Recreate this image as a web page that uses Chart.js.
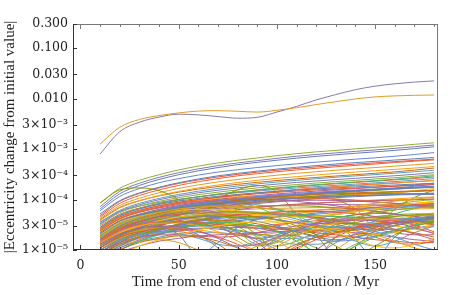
<!DOCTYPE html>
<html>
<head>
<meta charset="utf-8">
<script src="https://cdn.jsdelivr.net/npm/chart.js@4.4.1/dist/chart.umd.min.js"></script>
<style>
  html, body { margin: 0; padding: 0; background: #fff; }
  #wrap { width: 463px; height: 295px; }
</style>
</head>
<body>
<div id="wrap"><canvas id="chart" width="463" height="295"></canvas></div>
<script>
// ---------- Data ----------
// |Δe| values, in units of 1e-5
const UNIT = 1e-5;
const TIMES = [10, 20, 30, 40, 50, 60, 70, 80, 90, 100, 110, 120, 130, 140, 150, 160, 170, 180];

// the two planets that end above 0.01
const TOP_SERIES = [
  [126, 270, 385, 460, 520, 565, 575, 560, 540, 585, 660, 760, 870, 985, 1080, 1130, 1160, 1175],
  [80, 220, 340, 430, 490, 475, 440, 408, 425, 540, 700, 940, 1200, 1500, 1760, 1960, 2120, 2240],
];

// smooth, steadily growing curves at the top of the bundle
const UPPER_SERIES = [
  [8.6, 16.6, 24, 31, 38.5, 46, 53, 60, 66.5, 74, 81, 88, 94, 101, 108, 115, 124, 133],
  [7.2, 14.5, 21, 27.5, 34, 40.5, 47, 53, 59, 65.5, 72, 78, 84, 90, 96, 103, 111, 120],
  [6.5, 13, 19, 25, 31, 37, 43, 49, 54.5, 60, 66, 71.5, 77, 82.5, 88, 94, 102, 111],
  [6.0, 11.5, 16.5, 21.5, 26, 30.5, 35, 39, 43, 47, 51, 55, 59, 63, 67, 72, 78, 85],
  [5.2, 9.5, 13.5, 17.5, 21.5, 25.5, 29.5, 33, 36.5, 40, 43.5, 47, 50.5, 54, 57, 60.5, 64, 68],
  [4.8, 9.2, 13.2, 17, 20.8, 24.5, 28, 31.5, 34.8, 38, 41.2, 44.3, 47.3, 50.3, 53.3, 56.4, 59.6, 63],
  [4.5, 8.4, 12, 15.5, 19, 22.5, 26, 29.5, 32.5, 35.5, 38.5, 41.5, 44.5, 47.5, 50.5, 54, 57.5, 61],
  [4.2, 7.6, 10.6, 13.6, 16.6, 19.5, 22.3, 25, 27.7, 30.3, 33, 35.5, 38, 40.5, 43, 45.8, 48.8, 52],
  [3.8, 6.8, 9.4, 12, 14.5, 17, 19.4, 21.7, 24, 26.2, 28.4, 30.6, 32.8, 35, 37.2, 39.5, 42, 45],
  [4.0, 7.0, 9.5, 11.8, 14, 16.1, 18.1, 20, 21.9, 23.8, 25.6, 27.4, 29.2, 31.1, 33.1, 35.3, 38.2, 42],
  [3.5, 6.1, 8.4, 10.5, 12.6, 14.6, 16.6, 18.5, 20.4, 22.2, 24, 25.8, 27.6, 29.4, 31.2, 33.2, 35.5, 38],
  [3.3, 5.8, 7.9, 9.9, 11.8, 13.6, 15.3, 17, 18.6, 20.2, 21.8, 23.3, 24.8, 26.3, 27.9, 29.6, 31.6, 34],
  [3.2, 5.5, 7.4, 9.2, 10.9, 12.5, 14, 15.5, 17, 18.4, 19.8, 21.2, 22.6, 24, 25.5, 27, 28.9, 31],
  [2.8, 4.9, 6.6, 8.2, 9.8, 11.3, 12.8, 14.2, 15.6, 17, 18.4, 19.7, 21, 22.3, 23.7, 25.2, 27.1, 29.5],
  [3.0, 5.1, 6.8, 8.4, 9.9, 11.3, 12.7, 14, 15.3, 16.6, 17.9, 19.2, 20.5, 21.8, 23.1, 24.5, 26.1, 28],
  [3.6, 5.8, 7.4, 8.8, 10.1, 11.3, 12.5, 13.6, 14.7, 15.8, 16.9, 18, 19.1, 20.2, 21.4, 22.7, 24.2, 26],
  [2.7, 4.6, 6.1, 7.5, 8.8, 10, 11.2, 12.3, 13.4, 14.5, 15.6, 16.6, 17.6, 18.7, 19.8, 21, 22.4, 24],
  [2.5, 4.2, 5.6, 6.8, 8, 9.1, 10.1, 11.1, 12, 12.9, 13.8, 14.7, 15.6, 16.5, 17.4, 18.4, 19.6, 21],
  [1.9, 3.3, 4.5, 5.6, 6.6, 7.6, 8.5, 9.4, 10.3, 11.2, 12.1, 13, 13.9, 14.8, 15.8, 16.9, 18.3, 20],
  [2.3, 3.8, 5, 6.1, 7.1, 8, 8.9, 9.7, 10.5, 11.3, 12.1, 12.8, 13.5, 14.3, 15.1, 16, 16.9, 18],
  [1.8, 3.0, 4.0, 4.9, 5.7, 6.5, 7.2, 7.9, 8.6, 9.3, 10, 10.7, 11.4, 12.1, 12.9, 13.8, 15, 16.5],
  [2.1, 3.4, 4.5, 5.4, 6.3, 7.1, 7.8, 8.5, 9.2, 9.8, 10.4, 11, 11.6, 12.3, 13, 13.7, 14.5, 15.4],
  [2.4, 4.1, 5.6, 7.0, 8.4, 9.7, 11.0, 12.2, 13.4, 14.6, 15.8, 17.0, 18.1, 19.2, 20.3, 21.4, 22.5, 23.6],
  [2.0, 3.4, 4.7, 6.0, 7.2, 8.3, 9.3, 10.2, 11.0, 11.8, 12.6, 13.4, 14.2, 15.0, 15.8, 16.6, 17.4, 18.2],
  [1.7, 2.9, 4.0, 5.1, 6.2, 7.3, 8.3, 9.2, 10.0, 10.7, 11.3, 11.8, 12.2, 12.5, 12.7, 12.8, 12.8, 12.7],
];

// the dense, wandering lower part of the bundle
const LOWER_SERIES = [
  [2.2, 3.8, 5.0, 6.0, 6.9, 7.7, 8.4, 9.0, 9.6, 10.1, 10.6, 11.0, 11.4, 11.8, 12.2, 12.6, 13.0, 13.4],
  [1.8, 3.2, 4.5, 5.6, 6.5, 7.1, 7.4, 7.3, 6.9, 6.4, 6.1, 6.2, 6.7, 7.5, 8.4, 9.3, 10.2, 11],
  [1.5, 2.8, 4.0, 5.0, 5.7, 5.8, 5.0, 3.6, 2.0, 0.9, 1.0, 2.0, 3.2, 4.4, 5.4, 6.2, 6.8, 7.2],
  [1.3, 2.3, 3.1, 3.8, 4.3, 4.7, 5.0, 5.3, 5.5, 5.7, 5.9, 6.1, 6.4, 6.7, 7.0, 7.4, 7.8, 8.2],
  [1.2, 2.0, 2.6, 2.9, 2.7, 2.0, 1.1, 0.5, 0.9, 1.7, 2.6, 3.4, 4.0, 4.4, 4.5, 4.3, 3.8, 3.1],
  [1.6, 2.9, 4.1, 5.3, 6.4, 7.5, 8.6, 9.6, 10.5, 11.3, 12.0, 12.6, 13.1, 13.6, 14.0, 14.4, 14.8, 15.2],
  [1.1, 1.9, 2.8, 3.6, 4.4, 5.1, 5.6, 5.8, 5.6, 5.0, 4.1, 3.1, 2.2, 1.5, 1.2, 1.5, 2.2, 3.0],
  [2.0, 3.5, 4.6, 5.5, 6.1, 6.4, 6.3, 5.9, 5.3, 4.8, 4.5, 4.6, 5.0, 5.7, 6.5, 7.4, 8.3, 9.2],
  [1.4, 2.5, 3.6, 4.6, 5.5, 6.4, 7.3, 8.1, 8.8, 9.3, 9.6, 9.7, 9.6, 9.3, 8.9, 8.4, 7.9, 7.4],
  [1.0, 1.6, 2.1, 2.5, 2.9, 3.2, 3.3, 3.2, 3.0, 2.8, 2.6, 2.5, 2.5, 2.7, 3.0, 3.4, 3.9, 4.4],
  [0.8, 1.4, 2.0, 2.6, 3.2, 3.8, 4.4, 4.9, 5.3, 5.6, 5.8, 5.8, 5.6, 5.2, 4.6, 3.9, 3.1, 2.3],
  [1.7, 3.0, 4.3, 5.6, 6.9, 8.1, 9.3, 10.3, 11.2, 11.9, 12.5, 12.9, 13.1, 13.2, 13.2, 13.1, 12.9, 12.7],
  [1.2, 2.1, 2.9, 3.5, 4.0, 4.1, 3.8, 3.2, 2.5, 1.6, 0.8, 0.5, 1.0, 1.8, 2.7, 3.5, 4.2, 4.7],
  [0.9, 1.5, 2.2, 3.0, 3.8, 4.7, 5.5, 6.3, 7.0, 7.6, 8.1, 8.5, 8.9, 9.2, 9.5, 9.8, 10.0, 10.2],
  [1.9, 3.4, 4.7, 5.9, 6.8, 7.4, 7.6, 7.4, 6.9, 6.2, 5.4, 4.6, 3.9, 3.4, 3.2, 3.4, 3.9, 4.6],
  [1.1, 1.8, 2.4, 2.8, 3.1, 3.4, 3.6, 3.8, 4.1, 4.5, 4.9, 5.4, 5.9, 6.4, 6.9, 7.4, 7.9, 8.4],
  [0.7, 1.2, 1.7, 2.2, 2.8, 3.3, 3.8, 4.3, 4.7, 5.1, 5.4, 5.7, 5.9, 6.1, 6.3, 6.4, 6.5, 6.6],
  [1.5, 2.6, 3.5, 4.2, 4.5, 4.2, 3.4, 2.3, 1.3, 1.4, 2.1, 2.9, 3.6, 4.1, 4.5, 4.7, 4.8, 4.8],
  [2.4, 4.2, 5.8, 7.1, 8.3, 9.3, 10.0, 10.5, 10.8, 10.9, 10.8, 10.5, 10.1, 9.6, 9.0, 8.4, 7.7, 7.0],
  [1.3, 2.2, 3.1, 4.0, 4.9, 5.8, 6.7, 7.5, 8.3, 9.0, 9.7, 10.3, 10.9, 11.4, 11.9, 12.4, 12.8, 13.2],
  [0.9, 1.5, 2.0, 2.3, 2.3, 1.9, 1.3, 0.7, 0.4, 0.7, 1.2, 1.8, 2.4, 2.9, 3.3, 3.5, 3.5, 3.3],
  [1.6, 2.7, 3.6, 4.2, 4.6, 4.8, 4.8, 4.7, 4.6, 4.6, 4.8, 5.1, 5.5, 6.0, 6.5, 7.0, 7.5, 8.0],
  [1.0, 1.8, 2.6, 3.5, 4.2, 4.7, 4.9, 4.7, 4.2, 3.5, 2.8, 2.4, 2.4, 2.8, 3.4, 4.1, 4.8, 5.4],
  [2.1, 3.7, 5.1, 6.4, 7.6, 8.7, 9.5, 10.0, 10.1, 9.8, 9.2, 8.4, 7.5, 6.6, 5.8, 5.1, 4.6, 4.3],
  [1.2, 2.1, 3.0, 4.0, 5.0, 6.1, 7.1, 8.1, 9.1, 10.0, 10.9, 11.7, 12.4, 13.0, 13.6, 14.1, 14.5, 14.9],
  [0.8, 1.3, 1.7, 2.1, 2.4, 2.6, 2.8, 2.8, 2.7, 2.6, 2.4, 2.2, 2.0, 1.8, 1.6, 1.5, 1.4, 1.4],
  [1.4, 2.4, 3.3, 4.0, 4.3, 4.1, 3.5, 2.9, 2.7, 3.0, 3.6, 4.3, 5.0, 5.7, 6.3, 6.8, 7.2, 7.5],
  [1.8, 3.1, 4.2, 5.1, 5.8, 6.3, 6.7, 7.0, 7.3, 7.6, 8.0, 8.4, 8.8, 9.3, 9.8, 10.3, 10.8, 11.3],
  [1.1, 1.9, 2.6, 3.2, 3.6, 3.6, 3.1, 2.3, 1.4, 0.7, 0.5, 1.0, 1.8, 2.6, 3.3, 3.9, 4.3, 4.5],
  [0.6, 1.0, 1.5, 2.0, 2.6, 3.2, 3.7, 4.1, 4.4, 4.6, 4.7, 4.7, 4.6, 4.5, 4.3, 4.1, 3.9, 3.7],
  [1.3, 2.3, 3.4, 4.6, 5.8, 7.0, 8.2, 9.3, 10.4, 11.4, 12.3, 13.2, 14.0, 14.8, 15.5, 16.2, 16.8, 17.4],
  [1.0, 1.7, 2.4, 3.1, 3.8, 4.4, 4.9, 5.2, 5.3, 5.3, 5.1, 4.9, 4.6, 4.3, 4.0, 3.8, 3.6, 3.5],
  [1.7, 2.9, 3.9, 4.6, 5.0, 4.8, 4.0, 2.9, 1.8, 1.2, 1.5, 2.3, 3.2, 4.0, 4.6, 5.0, 5.2, 5.2],
  [0.9, 1.6, 2.3, 3.0, 3.8, 4.5, 5.1, 5.4, 5.5, 5.3, 4.8, 4.1, 3.3, 2.5, 1.8, 1.4, 1.3, 1.5],
  [1.5, 2.6, 3.7, 4.8, 5.9, 7.0, 8.0, 8.9, 9.7, 10.3, 10.9, 11.3, 11.7, 12.0, 12.2, 12.4, 12.5, 12.6],
  [1.2, 2.0, 2.7, 3.3, 3.6, 3.4, 2.8, 2.0, 1.7, 2.0, 2.7, 3.5, 4.3, 5.0, 5.7, 6.3, 6.8, 7.2],
  [0.7, 1.1, 1.5, 1.8, 2.1, 2.2, 2.2, 2.0, 1.7, 1.5, 1.3, 1.3, 1.5, 1.8, 2.1, 2.4, 2.7, 2.9],
  [2.3, 3.9, 5.2, 6.1, 6.7, 6.8, 6.5, 5.9, 5.2, 4.7, 4.5, 4.7, 5.2, 5.9, 6.7, 7.5, 8.3, 9.0],
  [1.4, 2.4, 3.3, 4.1, 4.9, 5.7, 6.4, 7.0, 7.4, 7.6, 7.8, 7.9, 7.9, 7.9, 7.8, 7.7, 7.6, 7.5],
  [1.0, 1.7, 2.5, 3.4, 4.3, 5.2, 6.0, 6.7, 7.2, 7.5, 7.5, 7.3, 6.9, 6.4, 5.8, 5.2, 4.6, 4.0],
  [2.6, 4.5, 6.1, 7.5, 8.8, 10.0, 11.1, 12.1, 13.0, 13.9, 14.7, 15.5, 16.2, 16.9, 17.6, 18.3, 19.0, 19.7],
  [2.0, 3.5, 4.9, 6.2, 7.4, 8.5, 9.6, 10.6, 11.5, 12.4, 13.2, 14.0, 14.7, 15.4, 16.1, 16.8, 17.5, 18.2],
  [2.5, 4.4, 6.0, 7.5, 8.8, 9.9, 10.8, 11.4, 11.7, 11.7, 11.4, 10.9, 10.3, 9.8, 9.5, 9.5, 9.8, 10.3],
  [1.5, 2.7, 3.9, 5.1, 6.3, 7.5, 8.6, 9.7, 10.7, 11.7, 12.6, 13.5, 14.3, 15.1, 15.9, 16.6, 17.3, 18.0],
  [1.8, 3.2, 4.5, 5.8, 7.0, 8.0, 8.6, 8.6, 7.9, 6.5, 4.8, 3.2, 2.3, 2.6, 3.8, 5.2, 6.6, 7.9],
  [2.8, 4.8, 6.5, 8.0, 9.3, 10.5, 11.6, 12.6, 13.6, 14.5, 15.4, 16.2, 17.0, 17.8, 18.6, 19.4, 20.2, 21.0],
  [1.2, 2.0, 2.8, 3.6, 4.4, 5.1, 5.7, 6.2, 6.5, 6.7, 6.8, 6.9, 7.0, 7.2, 7.5, 7.9, 8.4, 9.0],
  [0.9, 1.5, 2.1, 2.7, 3.2, 3.5, 3.6, 3.4, 3.0, 2.4, 1.7, 1.1, 0.9, 1.3, 1.9, 2.5, 3.1, 3.6],
];

// the lowest curves, hugging the bottom of the frame
const FLOOR_SERIES = [
  [0.6, 1.0, 1.4, 1.7, 1.9, 1.8, 1.5, 1.1, 0.8, 0.9, 1.3, 1.8, 2.2, 2.5, 2.6, 2.5, 2.2, 1.8],
  [1.0, 1.6, 2.0, 2.2, 2.1, 1.7, 1.3, 1.2, 1.5, 2.0, 2.5, 2.8, 2.9, 2.7, 2.3, 1.8, 1.3, 1.0],
  [0.5, 0.8, 1.2, 1.6, 2.0, 2.5, 3.0, 3.4, 3.6, 3.6, 3.3, 2.8, 2.2, 1.6, 1.2, 1.1, 1.3, 1.7],
  [1.3, 2.1, 2.7, 3.0, 2.9, 2.4, 1.7, 1.2, 1.3, 1.8, 2.5, 3.2, 3.7, 3.9, 3.8, 3.4, 2.8, 2.1],
  [0.8, 1.3, 1.9, 2.6, 3.3, 4.0, 4.5, 4.7, 4.5, 3.9, 3.0, 2.0, 1.2, 0.8, 1.2, 2.0, 2.9, 3.7],
  [1.1, 1.8, 2.3, 2.6, 2.6, 2.3, 1.8, 1.3, 0.9, 0.8, 1.1, 1.6, 2.2, 2.8, 3.3, 3.6, 3.7, 3.6],
  [0.7, 1.2, 1.8, 2.4, 3.1, 3.7, 4.2, 4.4, 4.3, 4.0, 3.5, 3.1, 2.8, 2.8, 3.1, 3.6, 4.2, 4.8],
  [1.4, 2.3, 3.0, 3.4, 3.4, 3.0, 2.3, 1.5, 1.0, 1.2, 1.9, 2.7, 3.4, 3.9, 4.1, 4.0, 3.6, 3.0],
  [0.9, 1.4, 1.8, 2.0, 2.0, 1.9, 1.8, 1.9, 2.2, 2.6, 3.0, 3.3, 3.4, 3.3, 3.0, 2.6, 2.1, 1.6],
  [0.6, 1.0, 1.5, 2.1, 2.7, 3.2, 3.5, 3.4, 3.0, 2.3, 1.5, 0.9, 0.8, 1.2, 1.8, 2.5, 3.1, 3.6],
  [1.2, 2.0, 2.8, 3.5, 4.1, 4.5, 4.6, 4.3, 3.7, 3.0, 2.3, 1.8, 1.6, 1.8, 2.3, 3.0, 3.7, 4.3],
  [0.8, 1.2, 1.5, 1.6, 1.4, 1.0, 0.7, 0.8, 1.2, 1.7, 2.2, 2.5, 2.6, 2.4, 2.0, 1.5, 1.1, 0.9],
  [1.0, 1.7, 2.5, 3.3, 4.1, 4.8, 5.3, 5.6, 5.6, 5.3, 4.8, 4.2, 3.6, 3.2, 3.0, 3.1, 3.4, 3.9],
  [1.5, 2.5, 3.2, 3.6, 3.7, 3.5, 3.2, 3.0, 3.0, 3.2, 3.5, 3.8, 4.0, 4.1, 4.0, 3.8, 3.5, 3.2],
  [0.7, 1.1, 1.6, 2.1, 2.5, 2.7, 2.6, 2.2, 1.6, 1.0, 0.6, 0.8, 1.4, 2.1, 2.8, 3.4, 3.8, 4.0],
  [1.1, 1.9, 2.6, 3.2, 3.6, 3.9, 3.9, 3.7, 3.3, 2.8, 2.3, 1.9, 1.8, 2.0, 2.5, 3.1, 3.8, 4.4],
  [0.9, 1.5, 2.1, 2.6, 2.9, 3.0, 2.8, 2.4, 2.0, 1.7, 1.7, 2.0, 2.5, 3.1, 3.6, 4.0, 4.2, 4.2],
  [1.3, 2.2, 3.0, 3.8, 4.5, 5.0, 5.3, 5.3, 5.0, 4.5, 3.8, 3.1, 2.5, 2.1, 2.0, 2.2, 2.6, 3.1],
  [0.6, 0.9, 1.2, 1.5, 1.7, 1.9, 2.0, 2.1, 2.2, 2.3, 2.4, 2.4, 2.3, 2.2, 2.0, 1.8, 1.6, 1.5],
  [1.0, 1.6, 2.2, 2.7, 3.0, 3.1, 2.9, 2.5, 2.1, 1.9, 2.0, 2.4, 2.9, 3.5, 4.1, 4.6, 5.0, 5.2],
  [1.6, 2.7, 3.7, 4.5, 5.1, 5.4, 5.4, 5.1, 4.6, 4.0, 3.4, 2.9, 2.6, 2.6, 2.9, 3.4, 4.0, 4.6],
  [0.8, 1.3, 1.8, 2.3, 2.7, 3.0, 3.1, 3.0, 2.7, 2.3, 1.9, 1.6, 1.5, 1.6, 1.9, 2.3, 2.7, 3.1],
  [1.2, 1.9, 2.4, 2.7, 2.7, 2.5, 2.2, 2.0, 2.0, 2.2, 2.6, 3.0, 3.3, 3.4, 3.3, 3.0, 2.6, 2.2],
  [0.7, 1.2, 1.8, 2.5, 3.2, 3.9, 4.5, 5.0, 5.2, 5.2, 4.9, 4.4, 3.8, 3.2, 2.6, 2.2, 2.0, 2.0],
];

// curves with strong oscillation (the olive arcs etc.)
const ARC_SERIES = [
  [8.5, 15.5, 17.0, 15.0, 10.0, 5.5, 3.2, 1.8, 1.2, 1.5, 2.4, 3.4, 4.3, 5.0, 5.3, 5.2, 4.6, 3.8],
  [1.5, 2.5, 3.4, 4.3, 5.3, 7.0, 10.5, 15.5, 19.0, 14.0, 5.0, 2.0, 0.8, 1.2, 2.4, 3.6, 4.6, 5.2],
  [1.2, 2.0, 2.8, 3.8, 5.0, 6.4, 7.9, 9.3, 10.6, 11.6, 12.0, 11.4, 9.9, 6.5, 2.9, 6.5, 11.0, 15.4],
  [1.3, 2.3, 3.4, 4.6, 5.6, 6.0, 5.4, 3.8, 1.8, 0.6, 1.8, 3.6, 5.4, 6.8, 7.7, 8.0, 7.7, 6.9],
  [0.8, 1.4, 2.2, 3.3, 4.8, 6.6, 8.0, 8.3, 7.0, 4.6, 2.2, 0.8, 1.8, 3.8, 6.0, 7.9, 9.2, 9.9],
  [1.6, 2.6, 3.2, 3.0, 2.0, 0.8, 1.4, 2.8, 4.0, 4.8, 5.0, 4.4, 3.2, 1.6, 0.7, 1.8, 3.2, 4.3],
];

const Y_TICKS       = [1e-5, 3e-5, 1e-4, 3e-4, 1e-3, 3e-3, 0.01, 0.03, 0.1, 0.3];
const Y_TICK_LABELS = ['1×10⁻⁵', '3×10⁻⁵', '1×10⁻⁴', '3×10⁻⁴', '1×10⁻³', '3×10⁻³', '0.010', '0.030', '0.100', '0.300'];
const X_TICKS       = [0, 10, 20, 30, 40, 50, 60, 70, 80, 90, 100, 110, 120, 130, 140, 150, 160, 170, 180];
const X_LABELED     = [0, 50, 100, 150];

// ---------- Styles ----------
const PALETTE = [
  '#5E81B5', '#E19C24', '#8FB032', '#EB6235', '#8778B3', '#C56E1A', '#5D9EC7', '#FFBF00',
  '#A5609D', '#929600', '#E95536', '#6685D9', '#F89F13', '#BC5B80', '#47B66D',
];
const TOP_COLORS   = ['#E19C24', '#8778B3'];
const UPPER_COLORS = [
  '#8FB032', '#8778B3', '#5E81B5', '#6685D9', '#5E81B5', '#E95536', '#EB6235', '#E19C24',
  '#F89F13', '#C56E1A', '#5D9EC7', '#8778B3', '#8FB032', '#47B66D', '#EB6235', '#5D9EC7',
  '#E19C24', '#A5609D', '#5E81B5', '#929600', '#FFBF00', '#E95536', '#EB6235', '#5E81B5',
  '#E19C24',
];
const ARC_COLORS = ['#929600', '#929600', '#929600', '#FFBF00', '#8FB032', '#5E81B5'];
const SERIF = "'Liberation Serif', serif";
const TICK_FONT = { family: "'DejaVu Serif', serif", size: 12.5 };

// ---------- Build datasets ----------
function toDataset(values, color) {
  return {
    data: TIMES.map((t, i) => ({ x: t, y: values[i] * UNIT })),
    borderColor: color,
    borderWidth: 1,
    pointRadius: 0,
    fill: false,
    cubicInterpolationMode: 'monotone',
  };
}

const datasets = [
  ...FLOOR_SERIES.map((v, i) => toDataset(v, PALETTE[(i + 5) % PALETTE.length])),
  ...LOWER_SERIES.map((v, i) => toDataset(v, PALETTE[i % PALETTE.length])),
  ...ARC_SERIES.map((v, i) => toDataset(v, ARC_COLORS[i])),
  ...UPPER_SERIES.map((v, i) => toDataset(v, UPPER_COLORS[i])),
  ...TOP_SERIES.map((v, i) => toDataset(v, TOP_COLORS[i])),
];

// ---------- Frame with inward ticks ----------
const framePlugin = {
  id: 'frame',
  afterDatasetsDraw(chart) {
    const { ctx, chartArea: a, scales: { x, y } } = chart;
    const seg = (x0, y0, x1, y1, color) => {
      ctx.strokeStyle = color;
      ctx.beginPath(); ctx.moveTo(x0, y0); ctx.lineTo(x1, y1); ctx.stroke();
    };
    ctx.save();
    ctx.lineWidth = 1;
    seg(a.left, a.top + 0.5, a.right, a.top + 0.5, '#777');
    seg(a.right - 0.5, a.top, a.right - 0.5, a.bottom, '#777');
    seg(a.left, a.bottom - 0.5, a.right, a.bottom - 0.5, '#333');
    seg(a.left + 0.5, a.top, a.left + 0.5, a.bottom, '#333');
    X_TICKS.forEach(v => {
      const px = Math.round(x.getPixelForValue(v)) + 0.5;
      const len = X_LABELED.includes(v) ? 5 : 3;
      seg(px, a.bottom, px, a.bottom - len, '#333');
      seg(px, a.top, px, a.top + len, '#777');
    });
    Y_TICKS.forEach(v => {
      const py = Math.round(y.getPixelForValue(v)) + 0.5;
      seg(a.left, py, a.left + 4, py, '#333');
    });
    ctx.restore();
  },
};

// ---------- Chart ----------
new Chart(document.getElementById('chart'), {
  type: 'line',
  data: { datasets },
  options: {
    responsive: false,
    animation: false,
    events: [],
    layout: { padding: { top: 24, right: 25, left: 0, bottom: 0 } },
    plugins: { legend: { display: false }, tooltip: { enabled: false } },
    scales: {
      x: {
        type: 'linear',
        min: -3.8,
        max: 182,
        afterBuildTicks: s => { s.ticks = X_TICKS.map(v => ({ value: v })); },
        afterFit: s => { s.height = 45; },
        grid: { display: false, drawTicks: false },
        border: { display: false },
        ticks: {
          autoSkip: false,
          maxRotation: 0,
          padding: 8,
          color: '#222',
          font: TICK_FONT,
          callback: v => (X_LABELED.includes(v) ? String(v) : ''),
        },
        title: {
          display: true,
          text: 'Time from end of cluster evolution / Myr',
          color: '#222',
          font: { family: SERIF, size: 15 },
          padding: { top: 0, bottom: 4 },
        },
      },
      y: {
        type: 'logarithmic',
        min: 1e-5,
        max: 0.3,
        afterBuildTicks: s => { s.ticks = Y_TICKS.map(v => ({ value: v })); },
        afterFit: s => { s.width = 73; },
        grid: { display: false, drawTicks: false },
        border: { display: false },
        ticks: {
          autoSkip: false,
          padding: 5,
          color: '#222',
          font: TICK_FONT,
          callback: v => {
            const i = Y_TICKS.findIndex(t => Math.abs(t - v) / t < 1e-6);
            return i >= 0 ? Y_TICK_LABELS[i] : '';
          },
        },
        title: {
          display: true,
          text: '|Eccentricity change from initial value|',
          color: '#222',
          font: { family: SERIF, size: 15 },
          padding: { top: 1, bottom: 0 },
        },
      },
    },
  },
  plugins: [framePlugin],
});
</script>
</body>
</html>
